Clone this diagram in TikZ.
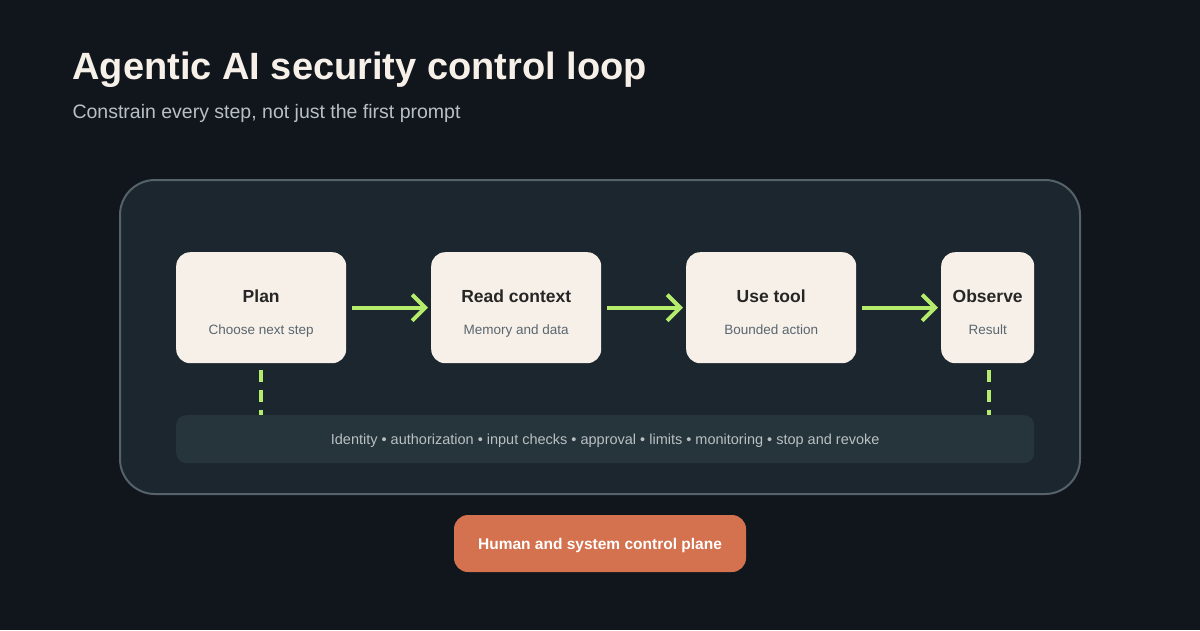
\documentclass[tikz,border=0pt]{standalone}
\usepackage{fontspec}
\setmainfont{Liberation Sans}
\usetikzlibrary{arrows.meta}
\definecolor{pagebg}{HTML}{10161C}
\definecolor{panelbg}{HTML}{1B262E}
\definecolor{panelline}{HTML}{56626A}
\definecolor{cardbg}{HTML}{F7F0E8}
\definecolor{barbg}{HTML}{26343B}
\definecolor{loopgreen}{HTML}{B5EC6B}
\definecolor{planeorange}{HTML}{D4714F}
\definecolor{titlecream}{HTML}{F7F0E8}
\definecolor{subgray}{HTML}{B9C0C4}
\definecolor{cardgray}{HTML}{5A6670}

\tikzset{
  stage/.style={fill=cardbg, rounded corners=14pt, minimum height=111pt, anchor=north west, inner sep=0pt},
  flow/.style={line width=4pt, loopgreen, -{Straight Barb[length=13pt,width=26pt,line width=4pt]}, shorten >=3pt},
  guard/.style={line width=4pt, loopgreen, dash pattern=on 12pt off 8pt}
}
\newcommand{\steptext}[2]{\begin{tabular}{@{}c@{}}\rule{0pt}{25pt}{\fontsize{17.5}{20}\selectfont\bfseries\color{black!85}#1}\\[18pt]{\fontsize{13.5}{15}\selectfont\color{cardgray}#2}\end{tabular}}

\begin{document}
\begin{tikzpicture}[x=1pt,y=-1pt]
  \fill[pagebg] (0,0) rectangle (1200,630);
  \useasboundingbox (0,0) rectangle (1200,630);

  % Heading
  \node[anchor=west, text=titlecream, font=\fontsize{38}{42}\selectfont\bfseries] (title) at (69,70) {Agentic AI security control loop};
  \node[anchor=west, text=subgray, font=\fontsize{19.5}{22}\selectfont] (subtitle) at (69,113) {Constrain every step, not just the first prompt};

  % Loop panel
  \draw[fill=panelbg, draw=panelline, line width=2pt, rounded corners=35pt] (120,180) rectangle (1080,494);

  % Steps
  \node[stage, minimum width=170pt] (plan) at (176,252) {\steptext{Plan}{Choose next step}};
  \node[stage, minimum width=170pt] (read) at (431,252) {\steptext{Read context}{Memory and data}};
  \node[stage, minimum width=170pt] (tool) at (686,252) {\steptext{Use tool}{Bounded action}};
  \node[stage, minimum width=93pt] (observe) at (941,252) {\steptext{Observe}{Result}};

  \draw[flow] ([xshift=6pt]plan.east) -- (read.west);
  \draw[flow] ([xshift=6pt]read.east) -- (tool.west);
  \draw[flow] ([xshift=6pt]tool.east) -- (observe.west);

  % Controls bar
  \node[fill=barbg, rounded corners=10pt, minimum width=858pt, minimum height=48pt, anchor=north west, inner sep=0pt,
        text=subgray, font=\fontsize{14.5}{16}\selectfont, text depth=0pt] (controls) at (176,415)
        {Identity • authorization • input checks • approval • limits • monitoring • stop and revoke};

  \draw[guard] ([yshift=-7pt]plan.south) -- (plan.south |- controls.north);
  \draw[guard] ([xshift=1pt,yshift=-7pt]observe.south) -- ([xshift=1pt]observe.south |- controls.north);

  % Control plane
  \node[fill=planeorange, rounded corners=14pt, minimum width=292pt, minimum height=57pt, text=white, text depth=0pt,
        font=\fontsize{15.5}{18}\selectfont\bfseries] (plane) at (600,543.5) {Human and system control plane};
\end{tikzpicture}
\end{document}
